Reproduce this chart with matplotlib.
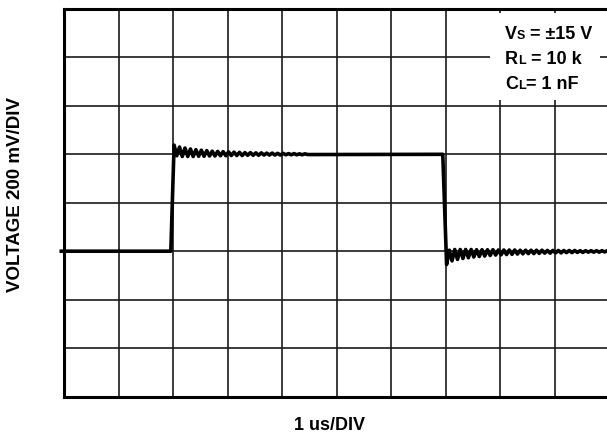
import matplotlib
matplotlib.use("Agg")
import matplotlib.pyplot as plt
from matplotlib import font_manager
from matplotlib.patches import Rectangle

# scope settings: x in us (1 us/div), y in mV (200 mV/div)
x_divs = 10
y_divs = 8
mv_per_div = 200

low_level = -200
high_level = 200

# edge timing (us)
rise_start, rise_end = 1.96, 2.02
fall_start, fall_end = 6.95, 7.02
ring_step = 0.05

# ringing after each edge, offsets from the settled level in mV, one per half cycle
rise_ring = [38, -6, 30, -9, 26, -9, 22, -9, 19, -8, 17, -8, 15, -7, 13, -7,
             12, -6, 11, -6, 10, -5, 9, -5, 8, -5, 7, -4, 7, -4, 6, -4, 6, -3,
             5, -3, 5, -3, 4, -3, 4, -2, 3, -2, 3, -2, 2, -2, 2, -1]
fall_ring = [-55, 4, -40, 7, -34, 7, -30, 7, -27, 7, -24, 6, -22, 6, -20, 6,
             -18, 6, -16, 5, -15, 5, -14, 5, -13, 5, -12, 4, -11, 4, -10, 4,
             -10, 4, -9, 4, -8, 3, -8, 3, -7, 3, -7, 3, -6, 3, -6, 3, -5, 2,
             -5, 2, -4, 2, -4, 2, -4, 2, -3, 2]

# build the trace
rise_t = [rise_end + k * ring_step for k in range(len(rise_ring))]
fall_t = [fall_end + k * ring_step for k in range(len(fall_ring))]
t = [-0.05, rise_start] + rise_t + [fall_start] + fall_t + [10.1]
v = ([low_level, low_level] + [high_level + a for a in rise_ring] + [high_level]
     + [low_level + a for a in fall_ring] + [low_level])


def pick_font(names):
    for n in names:
        try:
            font_manager.findfont(font_manager.FontProperties(family=n, weight="bold"),
                                  fallback_to_default=False)
            return n
        except ValueError:
            continue
    return "DejaVu Sans"


narrow_name = pick_font(["Liberation Sans Narrow", "Arial Narrow", "Liberation Sans"])
narrow = [narrow_name, "DejaVu Sans"]

fig = plt.figure(figsize=(6.07, 4.37), dpi=100)
ax = fig.add_axes([64 / 607, 40.5 / 437, 545 / 607, 387.5 / 437])
ax.set_xlim(0, x_divs)
ax.set_ylim(-y_divs / 2 * mv_per_div, y_divs / 2 * mv_per_div)

# graticule
for i in range(1, x_divs):
    ax.axvline(i, color="#1a1a1a", lw=1.2, zorder=1)
for j in range(1, y_divs):
    ax.axhline(-800 + j * mv_per_div, color="#1a1a1a", lw=1.2, zorder=1)

for s in ["top", "left", "bottom"]:
    ax.spines[s].set_linewidth(2.2)
    ax.spines[s].set_zorder(5)
ax.spines["right"].set_visible(False)
ax.set_xticks([])
ax.set_yticks([])

ax.plot(t, v, color="black", lw=2.6, zorder=4, solid_joinstyle="round", clip_on=False)

# conditions box
ax.add_patch(Rectangle((7.82, 424), 2.01, 359, facecolor="white", edgecolor="none", zorder=2))

fig.canvas.draw()
renderer = fig.canvas.get_renderer()


def put_parts(x, y, parts):
    # draw text pieces one after another on the same baseline
    xd, yd = ax.transData.transform((x, y))
    for txt, size in parts:
        xx, yy = ax.transData.inverted().transform((xd, yd))
        tx = ax.text(xx, yy, txt, fontsize=size, fontweight="bold", family=narrow,
                     va="baseline", ha="left", zorder=6)
        xd = tx.get_window_extent(renderer).x1


big = 13 if narrow_name == "Liberation Sans" else 15
small = 9 if narrow_name == "Liberation Sans" else 10.5
put_parts(8.09, 676, [("V", big), ("S", small), (" = ±15 V", big)])
put_parts(8.09, 573, [("R", big), ("L", small), (" = 10 k", big)])
put_parts(8.09, 470, [("C", big), ("L", small), ("= 1 nF", big)])

fig.text(16 / 607, 1 - 195 / 437, "VOLTAGE 200 mV/DIV", rotation=90, fontsize=13.5,
         fontweight="bold", family=["Liberation Sans", "DejaVu Sans"],
         ha="center", va="center")
fig.text(330 / 607, 1 - 426 / 437, "1 us/DIV",
         fontsize=13 if narrow_name == "Liberation Sans" else 15, fontweight="bold",
         family=narrow, ha="center", va="center")

fig.savefig("out.png", dpi=100)
